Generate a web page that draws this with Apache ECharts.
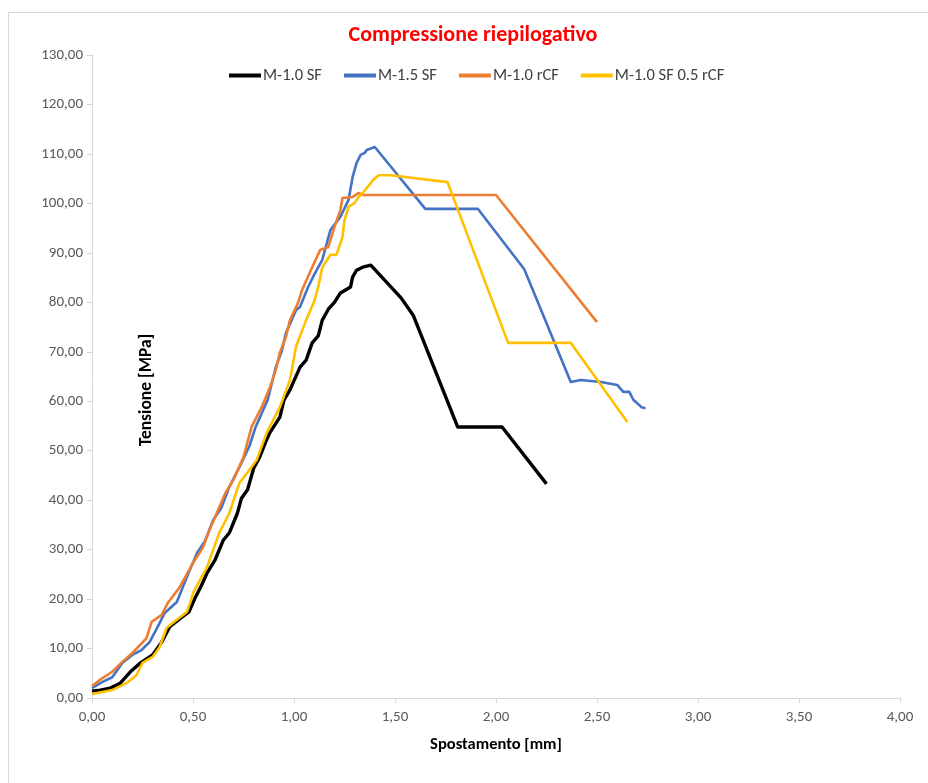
<!DOCTYPE html>
<html>
<head>
<meta charset="utf-8">
<script src="https://cdn.jsdelivr.net/npm/echarts@6/dist/echarts.min.js"></script>
<style>
  html, body { margin: 0; padding: 0; background: #ffffff; }
  #chart { width: 928px; height: 783px; }
</style>
</head>
<body>
<div id="chart"></div>
<script>
// Compression test curves: displacement [mm] vs stress [MPa]
const seriesNames = ['M-1.0 SF', 'M-1.5 SF', 'M-1.0 rCF', 'M-1.0 SF 0.5 rCF'];
const seriesColors = ['#000000', '#4472c4', '#ed7d31', '#ffc000'];

const m10SF = [[0,1.4],[0.04,1.6],[0.09,2.0],[0.14,3.0],[0.19,5.3],[0.24,7.1],[0.30,8.7],[0.345,11.3],[0.385,14.4],[0.44,16.2],[0.48,17.4],[0.51,20.2],[0.54,22.6],[0.57,25.3],[0.61,28.0],[0.65,31.9],[0.68,33.4],[0.72,37.4],[0.74,40.4],[0.77,42.1],[0.80,46.4],[0.83,48.7],[0.86,51.8],[0.88,53.6],[0.93,56.8],[0.95,60.2],[0.98,62.3],[1.03,66.9],[1.06,68.3],[1.09,71.8],[1.12,73.2],[1.14,76.4],[1.17,78.6],[1.20,80.0],[1.23,81.9],[1.28,83.1],[1.29,85.1],[1.31,86.5],[1.34,87.1],[1.38,87.5],[1.53,80.9],[1.59,77.4],[1.81,54.8],[2.03,54.8],[2.25,43.3]];

const m15SF = [[0,2.0],[0.05,3.2],[0.10,4.2],[0.15,7.1],[0.20,8.7],[0.245,9.7],[0.285,11.3],[0.325,14.4],[0.36,17.2],[0.42,19.4],[0.47,24.5],[0.52,29.3],[0.56,31.8],[0.60,36.0],[0.64,38.4],[0.68,42.7],[0.74,47.5],[0.78,51.0],[0.81,54.8],[0.87,60.3],[0.91,66.9],[0.94,70.2],[0.96,73.8],[1.01,78.4],[1.03,79.1],[1.07,83.1],[1.10,85.6],[1.14,88.6],[1.18,94.6],[1.23,97.3],[1.27,100.7],[1.29,105.3],[1.31,108.2],[1.33,109.8],[1.35,110.2],[1.36,110.8],[1.40,111.4],[1.65,98.9],[1.91,98.9],[2.14,86.7],[2.37,63.9],[2.42,64.3],[2.52,63.9],[2.60,63.3],[2.63,61.9],[2.66,61.9],[2.68,60.3],[2.72,58.8],[2.74,58.6]];

const m10rCF = [[0,2.4],[0.037,3.6],[0.10,5.3],[0.15,7.3],[0.20,9.1],[0.27,12.1],[0.295,15.4],[0.345,16.8],[0.375,19.2],[0.434,22.4],[0.50,27.3],[0.55,30.5],[0.58,33.8],[0.62,37.6],[0.66,41.4],[0.70,44.1],[0.75,48.7],[0.79,54.8],[0.84,58.8],[0.88,62.7],[0.91,66.4],[0.93,69.8],[0.96,73.0],[0.98,76.4],[1.02,79.9],[1.04,82.5],[1.09,87.1],[1.13,90.6],[1.17,91.2],[1.20,95.2],[1.23,98.7],[1.24,101.1],[1.29,101.3],[1.32,102.1],[1.34,101.7],[2.00,101.7],[2.50,76.0]];

const m10SF05rCF = [[0,0.8],[0.10,1.6],[0.17,3.0],[0.22,4.6],[0.25,7.1],[0.30,8.3],[0.335,10.3],[0.37,14.2],[0.42,15.8],[0.47,17.4],[0.49,19.8],[0.50,21.2],[0.57,26.5],[0.63,33.4],[0.68,37.4],[0.73,43.5],[0.77,45.6],[0.815,48.1],[0.865,53.6],[0.93,58.8],[0.98,64.3],[1.01,71.0],[1.06,76.4],[1.10,80.2],[1.12,83.1],[1.14,87.1],[1.18,89.6],[1.21,89.6],[1.24,93.2],[1.25,96.6],[1.27,99.3],[1.30,100.1],[1.32,101.3],[1.34,102.1],[1.38,104.1],[1.39,104.7],[1.42,105.7],[1.48,105.7],[1.76,104.3],[2.06,71.8],[2.37,71.8],[2.65,55.8]];

const seriesData = [m10SF, m15SF, m10rCF, m10SF05rCF];
const lineWidths = [3.4, 2.6, 2.6, 2.6];

const fontStack = "Carlito, 'Liberation Sans Narrow', 'Open Sans', sans-serif";
const fmt = v => v.toFixed(2).replace('.', ',');

const chart = echarts.init(document.getElementById('chart'));
chart.setOption({
  animation: false,
  backgroundColor: '#ffffff',
  graphic: [{
    type: 'rect',
    shape: { x: 8.5, y: 12.5, width: 940, height: 790 },
    style: { fill: 'none', stroke: '#d9d9d9', lineWidth: 1 },
    silent: true
  }, {
    // y-axis title sits inside the plot area, rotated
    type: 'text',
    x: 147, y: 390,
    rotation: Math.PI / 2,
    style: {
      text: 'Tensione [MPa]',
      fill: '#000000',
      font: "bold 17.5px Carlito, 'Liberation Sans Narrow', 'Open Sans', sans-serif",
      textAlign: 'center', textVerticalAlign: 'middle'
    },
    z: 10
  }],
  title: {
    text: 'Compressione riepilogativo',
    left: 468, top: 19, textAlign: 'center',
    textStyle: { color: '#ff0000', fontSize: 22, fontWeight: 'bold', fontFamily: fontStack }
  },
  legend: {
    top: 62, left: 224,
    itemWidth: 32, itemHeight: 4, itemGap: 22,
    icon: 'rect',
    textStyle: { color: '#404040', fontSize: 16.5, fontFamily: fontStack, padding: [0, 0, 0, -3] },
    data: seriesNames
  },
  grid: { left: 92, right: 28, top: 55, bottom: 85, containLabel: false },
  xAxis: {
    type: 'value', min: 0, max: 4, interval: 0.5,
    name: 'Spostamento [mm]', nameLocation: 'middle', nameGap: 38,
    nameTextStyle: { color: '#000000', fontSize: 16.5, fontWeight: 'bold', fontFamily: fontStack },
    axisLine: { lineStyle: { color: '#d9d9d9', width: 1 } },
    axisTick: { show: true, length: 5, lineStyle: { color: '#d9d9d9' } },
    axisLabel: { formatter: fmt, color: '#595959', fontSize: 15, fontFamily: fontStack, margin: 12 },
    splitLine: { show: false }
  },
  yAxis: {
    type: 'value', min: 0, max: 130, interval: 10,
    axisLine: { show: true, lineStyle: { color: '#d9d9d9', width: 1 } },
    axisTick: { show: true, length: 5, lineStyle: { color: '#d9d9d9' } },
    axisLabel: { formatter: fmt, color: '#595959', fontSize: 15, fontFamily: fontStack, margin: 9 },
    splitLine: { show: false }
  },
  series: seriesNames.map((name, i) => ({
    name: name,
    type: 'line',
    data: seriesData[i],
    showSymbol: false,
    symbol: 'none',
    smooth: false,
    color: seriesColors[i],
    lineStyle: { color: seriesColors[i], width: lineWidths[i], join: 'round' }
  }))
});
</script>
</body>
</html>
